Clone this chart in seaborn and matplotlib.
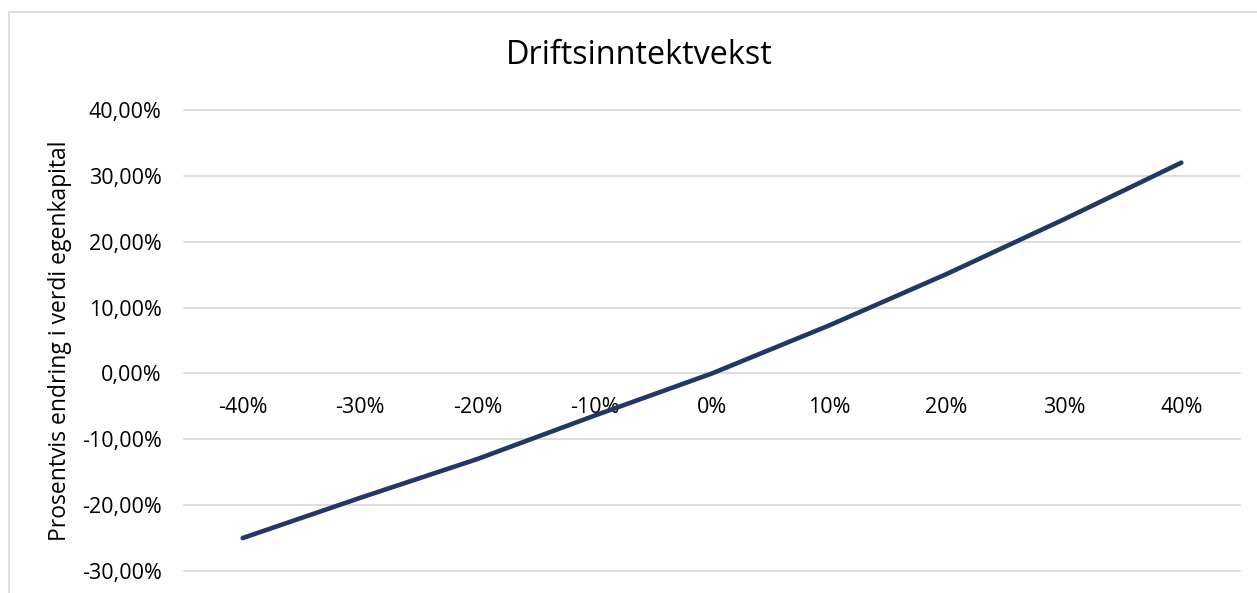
import numpy as np
import matplotlib
matplotlib.use("Agg")
import matplotlib.pyplot as plt
from matplotlib.ticker import FuncFormatter, FixedLocator
from matplotlib.patches import Rectangle
import seaborn as sns

# Sensitivity: operating revenue growth vs. change in equity value
growth_labels = ["-40%", "-30%", "-20%", "-10%", "0%", "10%", "20%", "30%", "40%"]
equity_change = [-0.250, -0.189, -0.130, -0.064, 0.000, 0.073, 0.151, 0.234, 0.320]
y_ticks = [-0.30, -0.20, -0.10, 0.00, 0.10, 0.20, 0.30, 0.40]

title_text = "Driftsinntektvekst"
ylabel_text = "Prosentvis endring i verdi egenkapital"

sns.set_theme(style="white")
plt.rcParams["font.family"] = ["Open Sans", "DejaVu Sans"]

W, H = 1257, 593
fig = plt.figure(figsize=(W / 100, H / 100), dpi=100)
fig.patch.set_facecolor("white")

# plot area in pixel terms
left, right, top, bottom = 184, 1240, 110, 571
ax = fig.add_axes([left / W, 1 - bottom / H, (right - left) / W, (bottom - top) / H])

positions = np.arange(len(growth_labels))
sns.lineplot(x=positions, y=equity_change, ax=ax, color="#203864",
             linewidth=3.3, solid_capstyle="round", legend=False)

ax.set_xlim(-0.5, len(growth_labels) - 0.5)
ax.set_ylim(y_ticks[0], y_ticks[-1])

ax.yaxis.set_major_locator(FixedLocator(y_ticks))
ax.yaxis.set_major_formatter(
    FuncFormatter(lambda v, _: f"{v * 100:.2f}%".replace(".", ",")))
ax.grid(axis="y", color="#D9D9D9", linewidth=1.3)
ax.set_axisbelow(True)
for gl in ax.get_ygridlines():
    gl.set_clip_on(False)

ax.set_xticks(positions)
ax.set_xticklabels(growth_labels)
ax.spines["bottom"].set_position(("data", 0))
for s in ax.spines.values():
    s.set_visible(False)

ax.tick_params(axis="x", length=0, pad=17, labelsize=15.5, labelcolor="#000000")
ax.tick_params(axis="y", length=0, pad=16, labelsize=15.5, labelcolor="#000000")

ax.set_ylabel(ylabel_text, fontsize=16.5, color="#000000", labelpad=7)
ax.set_xlabel("")

fig.text(639 / W, 1 - 55 / H, title_text, ha="center", va="center",
         fontsize=23.3, color="#000000")

# chart frame
fig.patches.append(Rectangle((9 / W, -0.1), 1.2, 1 - 12 / H + 0.1,
                             transform=fig.transFigure, fill=False,
                             edgecolor="#D9D9D9", linewidth=1.2))

fig.savefig("out.png", dpi=100, facecolor="white")
